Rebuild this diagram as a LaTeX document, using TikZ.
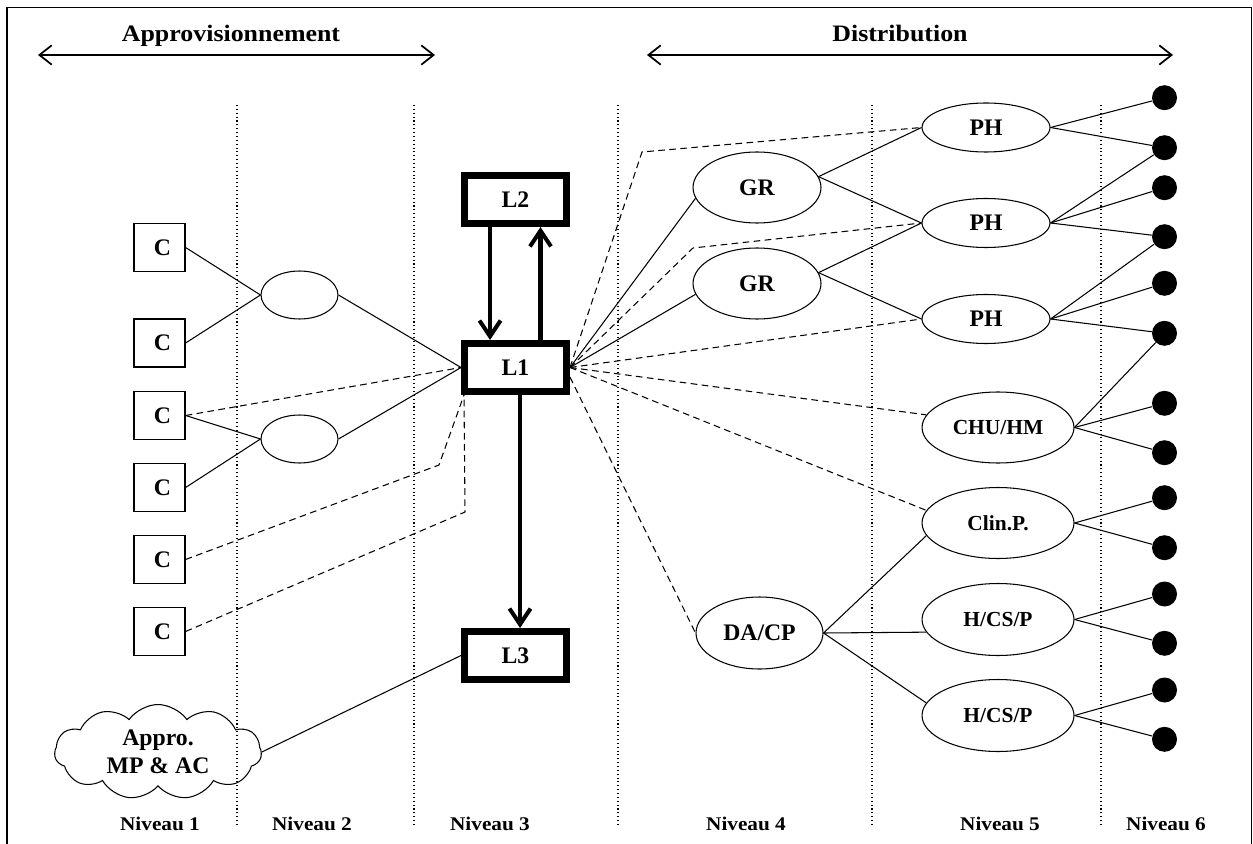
\documentclass[tikz,border=0pt]{standalone}
\usepackage{fontspec}
\setmainfont{Liberation Serif}
\newfontfamily\widefont{Liberation Serif}[FakeStretch=1.1]
\usetikzlibrary{shapes.geometric,shapes.symbols,arrows.meta}
\begin{document}
\begin{tikzpicture}[x=0.02cm,y=-0.02cm,
  txt/.style={font=\bfseries\fontsize{13.5}{16}\selectfont},
  smtxt/.style={font=\bfseries\fontsize{12.2}{14}\selectfont},
  head/.style={font=\widefont\bfseries\fontsize{13.4}{16}\selectfont, inner sep=0, anchor=base},
  niv/.style={font=\widefont\bfseries\fontsize{11}{13}\selectfont, inner sep=0, anchor=base},
  cbox/.style={draw, line width=0.7pt, minimum width=1.02cm, minimum height=0.96cm, inner sep=0, txt},
  lbox/.style={draw, line width=4pt, minimum width=2.04cm, minimum height=0.96cm, inner sep=0, txt},
  ell/.style={draw, ellipse, line width=0.6pt, inner sep=0, txt},
  dotnode/.style={circle, fill=black, minimum size=0.5cm, inner sep=0},
  thin/.style={line width=0.6pt},
  dashln/.style={line width=0.6pt, dash pattern=on 3.8pt off 2.5pt},
  dotln/.style={line width=0.6pt, dash pattern=on 0.6pt off 1.6pt},
  bigarrow/.style={line width=2.3pt, -{Straight Barb[length=9pt,width=12pt]}},
  headarrow/.style={line width=1pt, {Straight Barb[length=7pt,width=11pt]}-{Straight Barb[length=7pt,width=11pt]}}
]
\useasboundingbox (0,0) rectangle (1253,844);
% frame
\draw[line width=0.8pt] (7,844) -- (7,7.5) -- (1251.5,7.5) -- (1251.5,844);

% headings
\node[head] (happ) at (231,41.5) {Approvisionnement};
\node[head] (hdist) at (900,41.5) {Distribution};
\coordinate (a1) at (38,55); \coordinate (a2) at (435,55);
\coordinate (d1) at (647,55); \coordinate (d2) at (1173,55);
\draw[headarrow] (a1) -- (a2);
\draw[headarrow] (d1) -- (d2);

% dotted level separators
\foreach \x in {237,414,618,872,1101}
  \draw[dotln] (\x,105) -- (\x,825);

% level labels
\node[niv] (n1) at (160,830) {Niveau 1};
\node[niv] (n2) at (312,830) {Niveau 2};
\node[niv] (n3) at (490,830) {Niveau 3};
\node[niv] (n4) at (746,830) {Niveau 4};
\node[niv] (n5) at (1000,830) {Niveau 5};
\node[niv] (n6) at (1166,830) {Niveau 6};

% C boxes
\node[cbox] (c1) at (159.5,247.5) {\hspace*{0.12cm}C};
\node[cbox] (c2) at (159.5,343) {\hspace*{0.12cm}C};
\node[cbox] (c3) at (159.5,415.5) {\hspace*{0.12cm}C};
\node[cbox] (c4) at (159.5,487.5) {\hspace*{0.12cm}C};
\node[cbox] (c5) at (159.5,559.5) {\hspace*{0.12cm}C};
\node[cbox] (c6) at (159.5,631.5) {\hspace*{0.12cm}C};

% level-2 ellipses
\node[ell, minimum width=1.54cm, minimum height=0.96cm] (e1) at (299.5,295) {};
\node[ell, minimum width=1.54cm, minimum height=0.96cm] (e2) at (299.5,439) {};

% L boxes
\node[lbox] (L2) at (515.5,199.5) {L2};
\node[lbox] (L1) at (515.5,367.5) {L1};
\node[lbox] (L3) at (515.5,655.5) {L3};

% cloud
\node[cloud, draw, line width=0.6pt, cloud puffs=11, cloud puff arc=110, aspect=2.2,
      minimum width=4.14cm, minimum height=1.9cm, inner sep=0, align=center, txt]
      (cloud) at (158,752) {Appro.\\MP \& AC};

% level 4
\node[ell, minimum width=2.56cm, minimum height=1.42cm] (gr1) at (757,187.5) {GR};
\node[ell, minimum width=2.56cm, minimum height=1.42cm] (gr2) at (757,283.5) {GR};
\node[ell, minimum width=2.54cm, minimum height=1.44cm] (dacp) at (759.5,633) {DA/CP};

% level 5
\node[ell, minimum width=2.56cm, minimum height=0.98cm] (ph1) at (986,127.5) {PH};
\node[ell, minimum width=2.56cm, minimum height=0.98cm] (ph2) at (986,223) {PH};
\node[ell, minimum width=2.56cm, minimum height=0.98cm] (ph3) at (986,319) {PH};
\node[ell, smtxt, minimum width=3.04cm, minimum height=1.42cm] (chu) at (998,427.5) {CHU/HM};
\node[ell, smtxt, minimum width=3.04cm, minimum height=1.42cm] (clin) at (998,523) {Clin.P.};
\node[ell, smtxt, minimum width=3.04cm, minimum height=1.44cm] (h1) at (998,619.5) {H/CS/P};
\node[ell, smtxt, minimum width=3.04cm, minimum height=1.44cm] (h2) at (998,715.5) {H/CS/P};

% level 6 dots
\foreach \i/\y in {1/97.7,2/147.7,3/187.7,4/236.7,5/283.3,6/333.3,7/403.3,8/452.7,
                   9/497.7,10/547.7,11/594,12/643.3,13/690,14/739.3}
  \node[dotnode] (dot\i) at (1164.5,\y) {};

% left side connectors
\draw[thin] (c1.east) -- (e1.west);
\draw[thin] (c2.east) -- (e1.west);
\draw[thin] (e1.east) -- (L1.west);
\draw[thin] (c3.east) -- (e2.west);
\draw[thin] (c4.east) -- (e2.west);
\draw[thin] (e2.east) -- (L1.west);
\draw[dashln] (c3.east) -- (L1.west);
\coordinate (k1) at (439,465);
\coordinate (k2) at (465,512);
\draw[dashln] (c5.east) -- (k1) -- ([xshift=0.06cm]L1.south west);
\draw[dashln] (c6.east) -- (k2) -- ([xshift=0.06cm]L1.south west);
\draw[thin] (cloud.east) -- (L3.west);

% L arrows
\draw[bigarrow] ([xshift=-0.51cm]L2.south) -- ([xshift=-0.51cm]L1.north);
\draw[bigarrow] ([xshift=0.5cm]L1.north) -- ([xshift=0.5cm]L2.south);
\draw[bigarrow] ([xshift=0.09cm]L1.south) -- ([xshift=0.09cm]L3.north);

% right side connectors from L1
\coordinate (k3) at (642,152);
\coordinate (k4) at (693,248);
\draw[dashln] (L1.east) -- (k3) -- (ph1.west);
\draw[dashln] (L1.east) -- (k4) -- (ph2.west);
\draw[dashln] (L1.east) -- (ph3.west);
\draw[thin] (L1.east) -- (gr1.190);
\draw[thin] (L1.east) -- (gr2.190);
\draw[dashln] (L1.east) -- (chu.170);
\draw[dashln] (L1.east) -- (clin.170);
\draw[dashln] (L1.-10) -- (dacp.west);

% level 4 -> level 5
\draw[thin] (gr1.10) -- (ph1.west);
\draw[thin] (gr1.10) -- (ph2.west);
\draw[thin] (gr2.10) -- (ph2.west);
\draw[thin] (gr2.10) -- (ph3.west);
\draw[thin] (dacp.east) -- (clin.190);
\draw[thin] (dacp.east) -- (h1.190);
\draw[thin] (dacp.east) -- (h2.170);

% level 5 -> level 6
\draw[thin] (ph1.east) -- (dot1);
\draw[thin] (ph1.east) -- (dot2);
\draw[thin] (ph2.east) -- (dot2);
\draw[thin] (ph2.east) -- (dot3);
\draw[thin] (ph2.east) -- (dot4);
\draw[thin] (ph3.east) -- (dot4);
\draw[thin] (ph3.east) -- (dot5);
\draw[thin] (ph3.east) -- (dot6);
\draw[thin] (chu.east) -- (dot6);
\draw[thin] (chu.east) -- (dot7);
\draw[thin] (chu.east) -- (dot8);
\draw[thin] (clin.east) -- (dot9);
\draw[thin] (clin.east) -- (dot10);
\draw[thin] (h1.east) -- (dot11);
\draw[thin] (h1.east) -- (dot12);
\draw[thin] (h2.east) -- (dot13);
\draw[thin] (h2.east) -- (dot14);
\end{tikzpicture}
\end{document}
